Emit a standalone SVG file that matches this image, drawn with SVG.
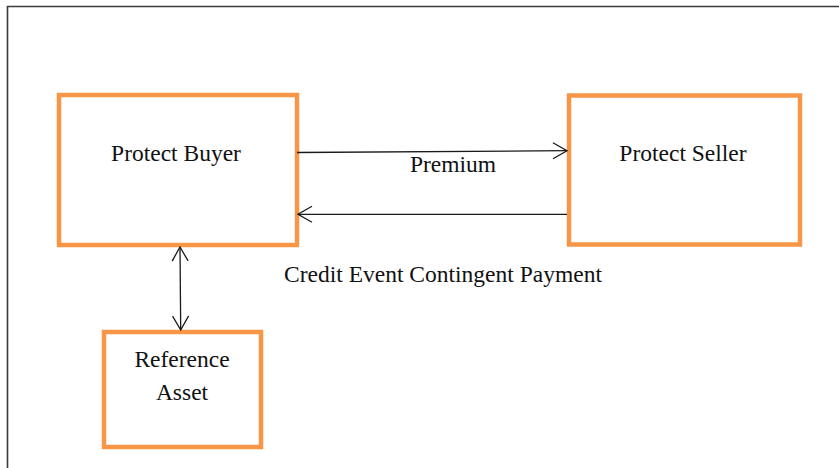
<svg xmlns="http://www.w3.org/2000/svg" width="839" height="468" viewBox="0 0 839 468">
  <style>
    .box { fill: #ffffff; stroke: #f79646; stroke-width: 4.5; }
    .label { font-family: "Liberation Serif", "Times New Roman", serif; font-size: 23.5px; fill: #111111; text-anchor: middle; }
    .link { fill: none; stroke: #1a1a1a; stroke-width: 1.3; }
    .frame { fill: none; stroke: #3a3a3a; stroke-width: 1.6; }
  </style>
  <defs>
    <marker id="open-arrow" markerUnits="userSpaceOnUse" markerWidth="20" markerHeight="20" viewBox="-16 -10 18 20" refX="0" refY="0" orient="auto-start-reverse">
      <path d="M-14,-8 L0,0 L-14,8" fill="none" stroke="#1a1a1a" stroke-width="1.3"/>
    </marker>
  </defs>

  <rect width="839" height="468" fill="#ffffff"/>

  <!-- outer frame: only the top and left edges are inside the canvas -->
  <path class="frame" d="M7.5,468 L7.5,6.5 L839,6.5"/>

  <g id="protect-buyer">
    <rect class="box" x="59" y="95" width="238" height="150"/>
    <text class="label" x="176" y="161">Protect Buyer</text>
  </g>

  <g id="protect-seller">
    <rect class="box" x="569" y="95.5" width="231" height="149"/>
    <text class="label" x="683" y="161">Protect Seller</text>
  </g>

  <g id="reference-asset">
    <rect class="box" x="104" y="332" width="157" height="115"/>
    <text class="label" x="182" y="367">Reference</text>
    <text class="label" x="182" y="400">Asset</text>
  </g>

  <g id="connectors">
    <!-- premium: buyer to seller -->
    <path class="link" d="M297,152.5 L567,150.7" marker-end="url(#open-arrow)"/>
    <text class="label" x="453" y="172">Premium</text>
    <!-- contingent payment: seller to buyer -->
    <path class="link" d="M567,214.3 L298,214.3" marker-end="url(#open-arrow)"/>
    <text class="label" x="443" y="282">Credit Event Contingent Payment</text>
    <!-- buyer and reference asset -->
    <path class="link" d="M180,247 L180.7,330" marker-start="url(#open-arrow)" marker-end="url(#open-arrow)"/>
  </g>
</svg>
